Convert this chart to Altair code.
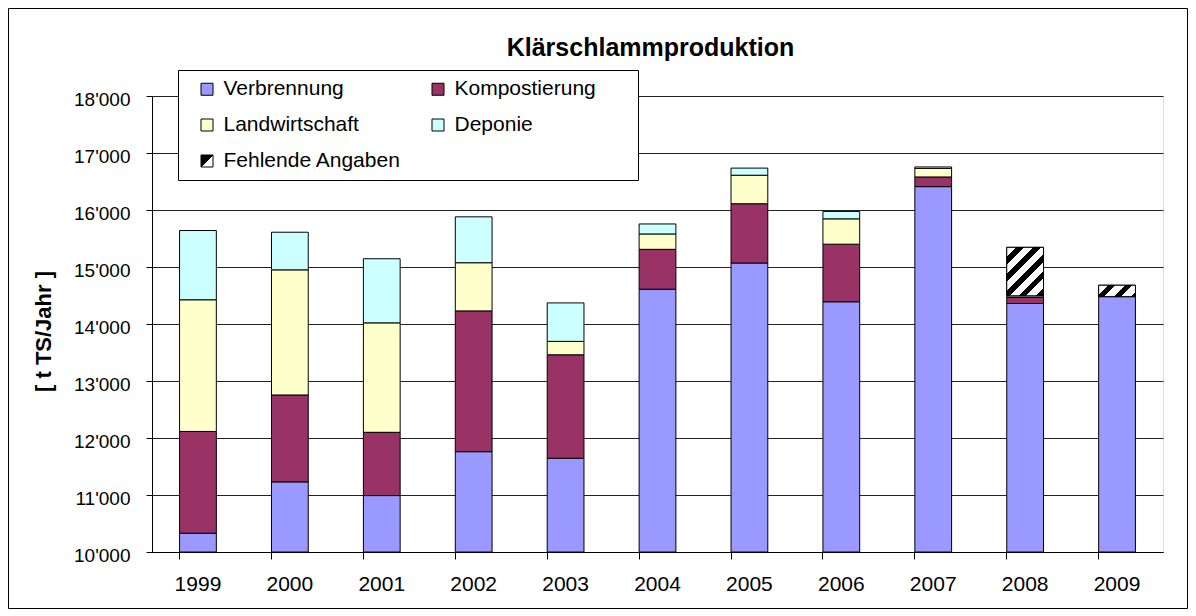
import altair as alt
import pandas as pd
import math

# ---- data ----
years = ["1999", "2000", "2001", "2002", "2003", "2004", "2005", "2006", "2007", "2008", "2009"]
categories = ["Verbrennung", "Kompostierung", "Landwirtschaft", "Deponie", "Fehlende Angaben"]
verbrennung = [10330, 11230, 10990, 11760, 11645, 14610, 15070, 14390, 16410, 14360, 14480]
kompostierung = [1785, 1525, 1110, 2470, 1815, 700, 1040, 1010, 170, 105, 0]
landwirtschaft = [2310, 2195, 1920, 845, 235, 270, 500, 445, 150, 0, 0]
deponie = [1215, 660, 1125, 805, 675, 175, 125, 130, 25, 30, 0]
fehlend = [0, 0, 0, 0, 0, 0, 0, 0, 0, 850, 200]
colors = ["#9999FF", "#993366", "#FFFFCC", "#CCFFFF", "#FFFFFF"]
# legend entries are laid out column by column (3 rows x 2 columns)
legend_order = ["Verbrennung", "Landwirtschaft", "Fehlende Angaben", "Kompostierung", "Deponie"]

series = [verbrennung, kompostierung, landwirtschaft, deponie, fehlend]
rows = []
for i, yr in enumerate(years):
    for k, cat in enumerate(categories):
        rows.append({"Jahr": yr, "Kategorie": cat, "Wert": series[k][i], "idx": k})
df = pd.DataFrame(rows)

FONT = "Liberation Sans"
W, H = 1011, 456
Y0, Y1 = 10000, 18000

base = alt.Chart(df).transform_stack(
    stack="Wert", groupby=["Jahr"],
    sort=[alt.SortField(field="idx", order="ascending")],
    as_=["y0", "y1"],
).transform_filter("datum.Wert > 0")

x_enc = alt.X(
    "Jahr:N", title=None,
    scale=alt.Scale(paddingInner=0.6, paddingOuter=0.3),
    axis=alt.Axis(bandPosition=0, labelAngle=0, labelFontSize=21, labelFont=FONT,
                  labelColor="black", labelPadding=14, tickSize=7, tickColor="#000",
                  domainColor="#000", grid=False),
)
y_enc = alt.Y(
    "y0:Q", title="[ t TS/Jahr ]",
    scale=alt.Scale(domain=[Y0, Y1], clamp=True, nice=False, zero=False),
    axis=alt.Axis(values=list(range(Y0, Y1 + 1, 1000)), grid=True, gridColor="#222",
                  tickSize=6, tickColor="#000", domainColor="#000",
                  labelFontSize=19, labelFont=FONT, labelColor="black", labelPadding=16,
                  labelOffset=3,
                  labelExpr="replace(format(datum.value, ','), ',', \"'\")",
                  titleFontSize=22, titleFont=FONT, titleFontWeight="bold",
                  titleColor="black", titlePadding=18, titleY=235),
)
color_scale = alt.Scale(domain=categories, range=colors)

bars = base.mark_bar(stroke="black", strokeWidth=1).encode(
    x=x_enc, y=y_enc, y2="y1:Q",
    color=alt.Color("Kategorie:N", scale=color_scale, legend=None),
)


def hatch_gradient(w, h, pitch=12.0, black=0.45):
    # stripes at 45 degrees inside a w x h box (objectBoundingBox units)
    r = h / w
    k = (1 + r) / (1 + r * r)
    period = pitch / ((w + h) / math.sqrt(2))
    stops = []
    t = 0.0
    while t < 1.0 - 1e-9:
        m = min(t + period * (1 - black), 1.0)
        e = min(t + period, 1.0)
        stops += [alt.GradientStop(offset=round(t, 4), color="white"),
                  alt.GradientStop(offset=round(m, 4), color="white"),
                  alt.GradientStop(offset=round(m, 4), color="black"),
                  alt.GradientStop(offset=round(e, 4), color="black")]
        t = e
    return alt.Gradient(gradient="linear", x1=0, y1=0, x2=k, y2=k * r, stops=stops)


band_w = 0.4 * W / len(years)
px_per_unit = H / (Y1 - Y0)
hatch_layers = []
for i, yr in enumerate(years):
    if fehlend[i] <= 0:
        continue
    grad = hatch_gradient(band_w, fehlend[i] * px_per_unit)
    hatch_layers.append(
        base.transform_filter(f"datum.Kategorie == 'Fehlende Angaben' && datum.Jahr == '{yr}'")
        .mark_bar(fill=grad, stroke="black", strokeWidth=1)
        .encode(x=x_enc, y=y_enc, y2="y1:Q")
    )

# legend (shape legend of an invisible layer so the symbol fill can be an expression)
legend_sym_grad = ("{gradient: 'linear', x1: 0, y1: 0, x2: 1, y2: 1, stops: ["
                   "{offset: 0, color: 'black'}, {offset: 0.5, color: 'black'},"
                   "{offset: 0.5, color: 'white'}, {offset: 1, color: 'white'}]}")
legend = alt.Legend(
    title=None, orient="none", legendX=44.5, legendY=-17.5, columns=2,
    columnPadding=26, rowPadding=14, symbolSize=144, symbolOpacity=1,
    symbolStrokeColor="black", symbolStrokeWidth=1, labelFontSize=21, labelFont=FONT,
    labelColor="black", labelOffset=6, labelLimit=400, padding=0, zindex=2,
    symbolFillColor=alt.ExprRef(
        expr=f"datum.value === 'Fehlende Angaben' ? {legend_sym_grad} : scale('color', datum.value)"),
)
legend_layer = base.mark_point(opacity=0, filled=True, size=1).encode(
    color=alt.Color("Kategorie:N", scale=color_scale, legend=None),
    shape=alt.Shape("Kategorie:N", scale=alt.Scale(domain=legend_order, range=["square"] * 5),
                    legend=legend),
)

deco = alt.Chart(pd.DataFrame({"d": [0]}))
legend_box = deco.mark_rect(fill="white", stroke="black", strokeWidth=1).encode(
    x=alt.value(26.5), x2=alt.value(486.5), y=alt.value(-25.5), y2=alt.value(84.5))
frame = deco.mark_rect(filled=False, stroke="black", strokeWidth=1).encode(
    x=alt.value(-143.5), x2=alt.value(1035.5), y=alt.value(-87.5), y2=alt.value(512.5))

chart = alt.layer(legend_box, bars, *hatch_layers, legend_layer, frame).properties(
    width=W, height=H, padding=0, autosize=alt.AutoSizeParams(type="pad"),
    title=alt.Title("Klärschlammproduktion", fontSize=25, fontWeight="bold", font=FONT,
                    color="black", anchor="middle", frame="group", offset=-72.5,
                    baseline="alphabetic", dx=-7),
).configure_view(stroke="#808080", strokeWidth=1).configure(background="white", font=FONT)

chart.save("out.html", embed_options={"renderer": "svg", "actions": False})
